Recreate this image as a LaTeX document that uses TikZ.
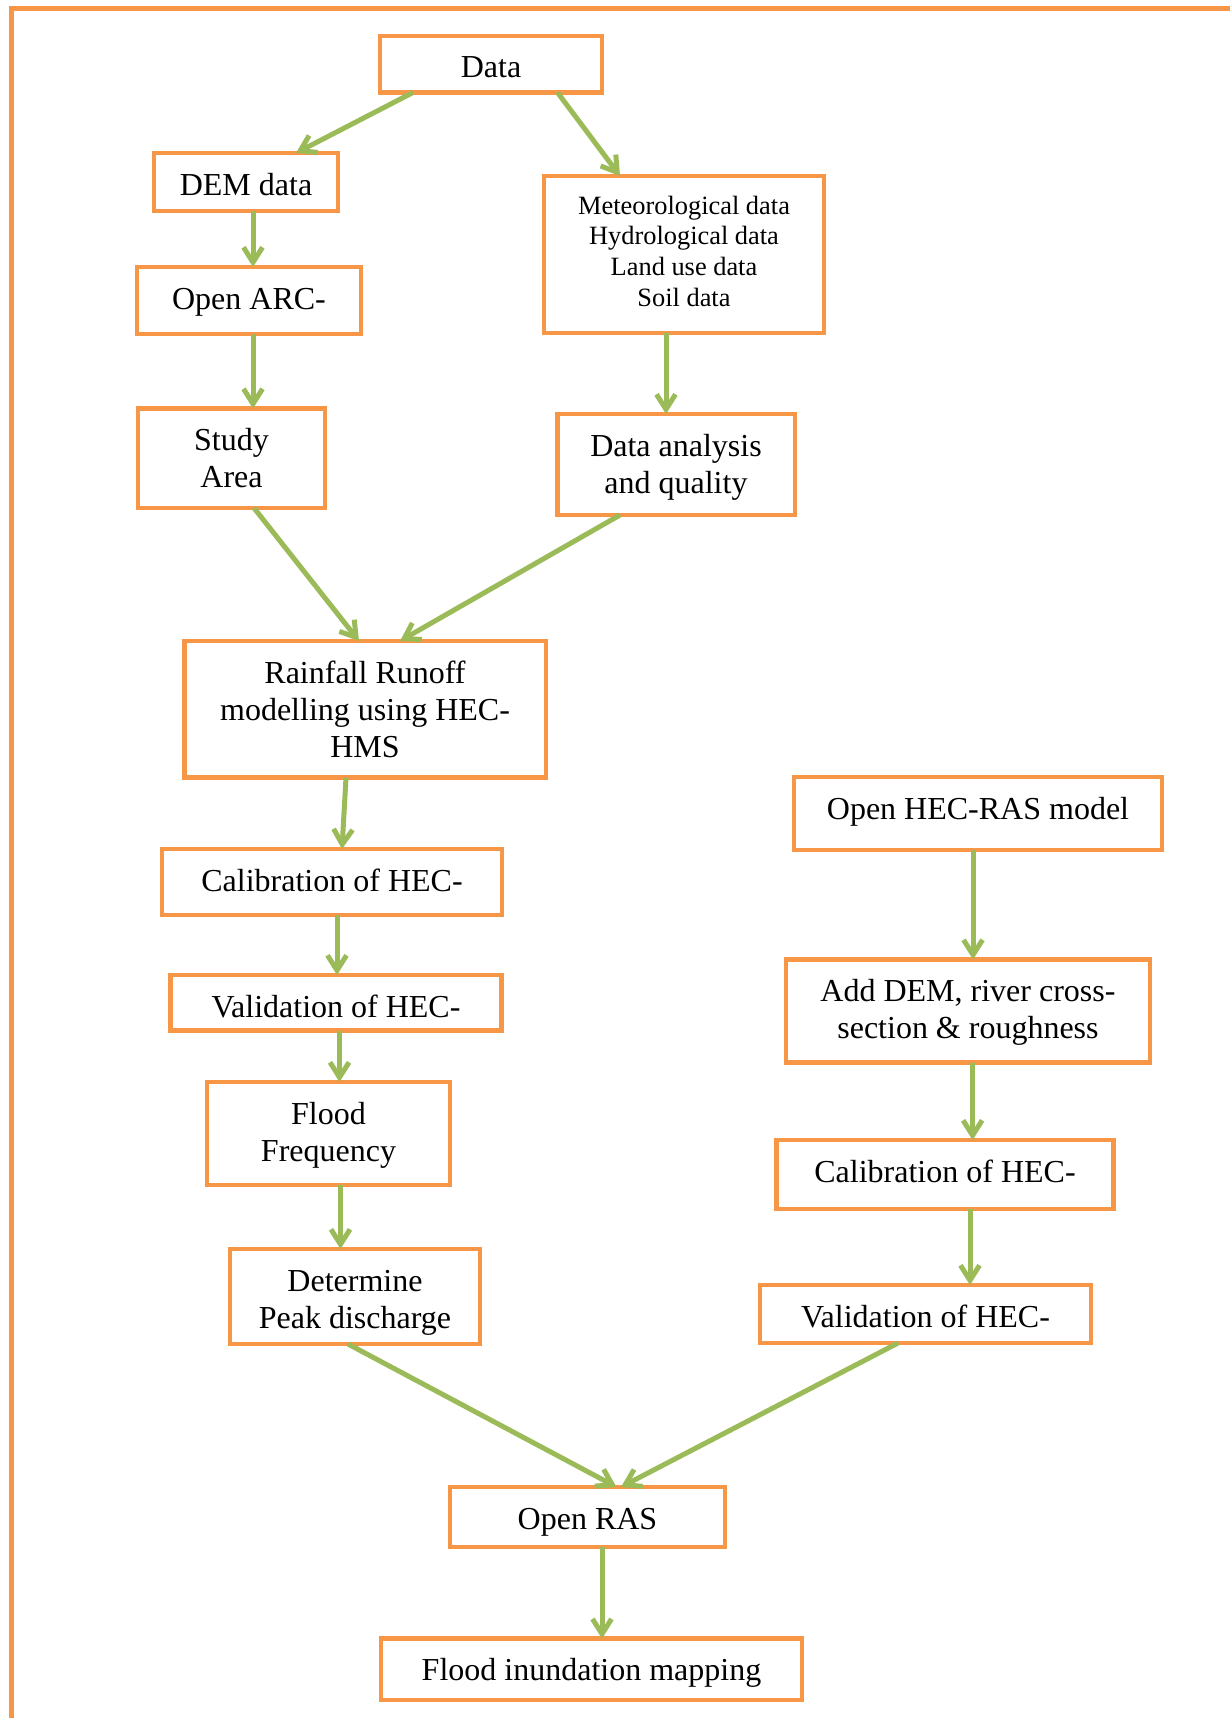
\documentclass[tikz,border=0pt]{standalone}
\usepackage{fontspec}
\setmainfont{Liberation Serif}
\usetikzlibrary{arrows.meta}
\definecolor{boxorange}{HTML}{F79646}
\definecolor{flowgreen}{HTML}{9BBB59}
% text hangs from the box top; #2 = room below the last line
\newcommand{\boxlines}[3][42]{\rule{0pt}{#1pt}#3\rule[-#2pt]{0pt}{#2pt}}

\begin{document}
\begin{tikzpicture}[
        x=1pt,y=-1pt,
        >={Straight Barb[length=15pt,width=19pt]},
        box/.style={draw=boxorange,line width=4.5pt,fill=white,align=center,anchor=north,
            inner xsep=2pt,inner ysep=0pt,outer sep=0pt,font=\fontsize{32}{37}\selectfont},
        smallbox/.style={box,font=\fontsize{26.4}{30.7}\selectfont},
        flow/.style={->,draw=flowgreen,line width=5pt}
    ]
        \useasboundingbox (0,0) rectangle (1230,1718);
        \draw[boxorange,line width=5pt] (1230,9) -| (11,1718);

        % left branch
        \node[box,minimum width=222pt] (data) at (491,36) {\boxlines{14.5}{Data}};
        \node[box,minimum width=184pt] (dem) at (246,153) {\boxlines{16}{DEM data}};
        \node[box,minimum width=224pt] (arc) at (249,267) {\boxlines{25}{Open ARC-}};
        \node[box,minimum width=187pt] (study) at (231.5,408.5) {\boxlines{20.5}{Study\\Area}};

        % right branch
        \node[smallbox,minimum width=280pt] (met) at (684,176)
            {\boxlines[38]{27}{Meteorological data\\Hydrological data\\Land use data\\Soil data}};
        \node[box,minimum width=237.5pt] (quality) at (676,414)
            {\boxlines{22}{Data analysis\\and quality}};

        % HEC-HMS
        \node[box,minimum width=361.5pt] (hms) at (365,641)
            {\boxlines{20.7}{Rainfall Runoff\\modelling using HEC-\\HMS}};
        \node[box,minimum width=339.6pt] (calhms) at (332,849) {\boxlines{24}{Calibration of HEC-}};
        \node[box,minimum width=330.6pt] (valhms) at (336,975) {\boxlines{13.7}{Validation of HEC-}};
        \node[box,minimum width=243pt] (freq) at (328.5,1082) {\boxlines{24}{Flood\\Frequency}};
        \node[box,minimum width=250pt] (peak) at (355,1249) {\boxlines{16}{Determine\\Peak discharge}};

        % HEC-RAS
        \node[box,minimum width=368pt] (ras) at (978,777) {\boxlines{31}{Open HEC-RAS model}};
        \node[box,minimum width=364pt] (geom) at (968,959.5)
            {\boxlines{24}{Add DEM, river cross-\\section \& roughness}};
        \node[box,minimum width=337pt] (calras) at (945,1140) {\boxlines{27}{Calibration of HEC-}};
        \node[box,minimum width=331pt] (valras) at (925.5,1285) {\boxlines{16}{Validation of HEC-}};

        \node[box,minimum width=275pt] (openras) at (587.5,1487) {\boxlines{18}{Open RAS}};
        \node[box,minimum width=421pt] (map) at (591.5,1638.6) {\boxlines{19.4}{Flood inundation mapping}};

        \draw[flow] ([xshift=-78pt]data.south) -- ([xshift=50pt]dem.north);
        \draw[flow] ([xshift=66.5pt]data.south) -- ([xshift=-64pt]met.north);
        \draw[flow] ([xshift=7pt]dem.south) -- ([xshift=7pt]dem.south |- arc.north);
        \draw[flow] ([xshift=4pt]arc.south) -- ([xshift=4pt]arc.south |- study.north);
        \draw[flow] ([xshift=-18pt]met.south) -- ([xshift=-18pt]met.south |- quality.north);
        \draw[flow] ([xshift=22.5pt]study.south) -- ([xshift=-6pt]hms.north);
        \draw[flow] ([xshift=-56pt]quality.south) -- ([xshift=35pt]hms.north);
        \draw[flow] ([xshift=-19pt]hms.south) -- ([xshift=10pt]calhms.north);
        \draw[flow] ([xshift=5pt]calhms.south) -- ([xshift=5pt]calhms.south |- valhms.north);
        \draw[flow] ([xshift=3.5pt]valhms.south) -- ([xshift=3.5pt]valhms.south |- freq.north);
        \draw[flow] ([xshift=12pt]freq.south) -- ([xshift=12pt]freq.south |- peak.north);
        \draw[flow] ([xshift=-5pt]ras.south) -- ([xshift=-5pt]ras.south |- geom.north);
        \draw[flow] ([xshift=4.6pt]geom.south) -- ([xshift=4.6pt]geom.south |- calras.north);
        \draw[flow] ([xshift=25pt]calras.south) -- ([xshift=25pt]calras.south |- valras.north);
        \draw[flow] ([xshift=-7pt]peak.south) -- ([xshift=29pt]openras.north);
        \draw[flow] ([xshift=-27.5pt]valras.south) -- ([xshift=33.5pt]openras.north);
        \draw[flow] ([xshift=14.5pt]openras.south) -- ([xshift=14.5pt]openras.south |- map.north);
    \end{tikzpicture}
\end{document}
